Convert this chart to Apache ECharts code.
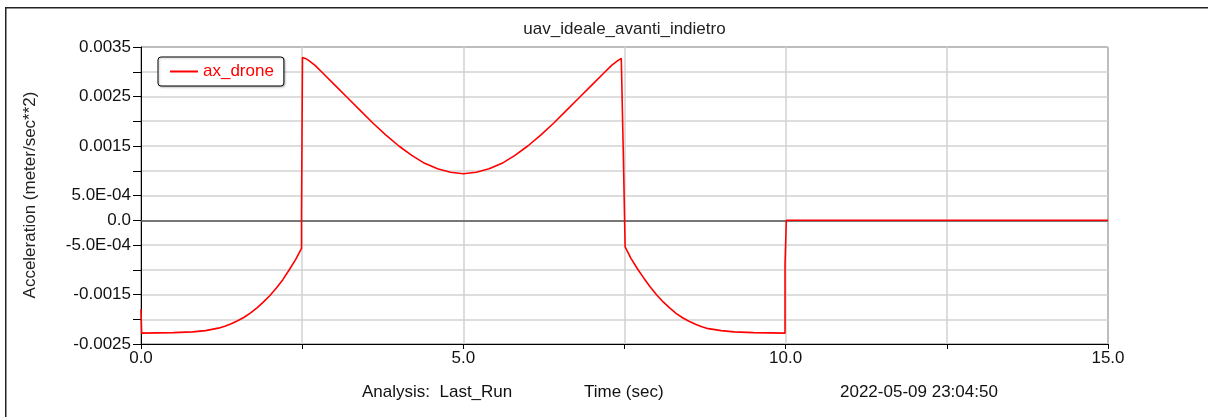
<!DOCTYPE html>
<html>
<head>
<meta charset="utf-8">
<script src="https://cdn.jsdelivr.net/npm/echarts@6/dist/echarts.min.js"></script>
<style>
html,body{margin:0;padding:0;background:#fff;}
#chart{width:1208px;height:417px;}
</style>
</head>
<body>
<div id="chart"></div>
<script>
// ---- data ----
const seriesName = 'ax_drone';
const times = [
  0, 0.01, 0.5, 0.8, 1.0, 1.2, 1.3, 1.4, 1.5, 1.6, 1.7, 1.8, 1.9, 2.0, 2.1, 2.2, 2.3, 2.4, 2.49,
  2.49, 2.505, 2.505, 2.55, 2.6, 2.7, 2.8, 3.0, 3.2, 3.4, 3.6, 3.8, 4.0, 4.2, 4.4, 4.6, 4.8, 5.0,
  5.2, 5.4, 5.6, 5.8, 6.0, 6.2, 6.4, 6.6, 6.8, 7.0, 7.2, 7.3, 7.4, 7.45, 7.48,
  7.48, 7.51, 7.51, 7.52, 7.6, 7.7, 7.8, 7.9, 8.0, 8.1, 8.2, 8.3, 8.4, 8.5, 8.6, 8.7, 8.8, 9.0, 9.2, 9.5, 9.99,
  9.99, 10.01, 10.01, 15.0
];
const accel = [
  -0.0018, -0.00228, -0.00227, -0.002255, -0.00223, -0.00218, -0.00214, -0.00209, -0.00203, -0.00196, -0.00187, -0.00177, -0.00165, -0.00152, -0.00137, -0.00120, -0.00100, -0.00079, -0.00057,
  0.00016, 0.00016, 0.00329, 0.00327, 0.00323, 0.00313, 0.00300, 0.00274, 0.00248, 0.00222, 0.00196, 0.00172, 0.00150, 0.00131, 0.00115, 0.00104, 0.00097, 0.00094,
  0.00097, 0.00104, 0.00115, 0.00131, 0.00150, 0.00172, 0.00196, 0.00222, 0.00248, 0.00274, 0.00300, 0.00313, 0.00323, 0.00327, 0.00329,
  0.00145, 0.00145, -0.00054, -0.00057, -0.00077, -0.00098, -0.00117, -0.00135, -0.00151, -0.00165, -0.00177, -0.00188, -0.00197, -0.00204, -0.00210, -0.00215, -0.00219, -0.00223, -0.002255, -0.00227, -0.00228,
  -0.0009, -0.0009, 0, 0
];
const yTickValues = [0.0035, 0.0025, 0.0015, 0.0005, 0, -0.0005, -0.0015, -0.0025];
const yTickLabels = ['0.0035', '0.0025', '0.0015', '5.0E-04', '0.0', '-5.0E-04', '-0.0015', '-0.0025'];
const xTickValues = [0, 5, 10, 15];
const xTickLabels = ['0.0', '5.0', '10.0', '15.0'];
const titleText = 'uav_ideale_avanti_indietro';
const yAxisName = 'Acceleration (meter/sec**2)';
const footAnalysis = 'Analysis:  Last_Run';
const footAxis = 'Time (sec)';
const footDate = '2022-05-09 23:04:50';

// ---- chart ----
const FONT = '"Liberation Sans", Arial, sans-serif';
const chart = echarts.init(document.getElementById('chart'), null, {renderer: 'canvas'});
const points = times.map((t, i) => [t, accel[i]]);

function lookup(vals, labels, v) {
  for (let i = 0; i < vals.length; i++) {
    if (Math.abs(vals[i] - v) < 1e-9) return labels[i];
  }
  return '';
}

const option = {
  animation: false,
  backgroundColor: '#fff',
  grid: {
    left: 141, top: 47, width: 967, height: 297,
    show: true, borderColor: '#000', borderWidth: 1, backgroundColor: 'transparent'
  },
  legend: {
    data: [{name: seriesName, icon: 'rect'}],
    left: 158, top: 57,
    padding: [6, 10, 6, 12],
    itemWidth: 28, itemHeight: 2, itemGap: 5,
    borderColor: '#000', borderWidth: 1, borderRadius: 3,
    backgroundColor: '#fff',
    shadowColor: 'rgba(0,0,0,0.25)', shadowBlur: 2, shadowOffsetX: 1, shadowOffsetY: 1,
    textStyle: {color: '#ff0000', fontSize: 17, fontFamily: FONT, padding: [0, 0, 0, 0]}
  },
  xAxis: {
    type: 'value', min: 0, max: 15, interval: 2.5,
    axisLine: {show: true, onZero: false, lineStyle: {color: '#000', width: 1}},
    axisTick: {show: true, length: 5, lineStyle: {color: '#000'}},
    axisLabel: {
      margin: 6, color: '#111', fontSize: 17, fontFamily: FONT,
      showMinLabel: true, showMaxLabel: true,
      formatter: v => lookup(xTickValues, xTickLabels, v)
    },
    splitLine: {show: true, lineStyle: {color: '#d2d2d2', width: 1.5}}
  },
  yAxis: {
    type: 'value', min: -0.0025, max: 0.0035, interval: 0.0005,
    axisLine: {show: true, onZero: false, lineStyle: {color: '#000', width: 1}},
    axisTick: {show: true, length: 8, lineStyle: {color: '#000'}},
    axisLabel: {
      margin: 10, color: '#111', fontSize: 17, fontFamily: FONT,
      showMinLabel: true, showMaxLabel: true,
      formatter: v => lookup(yTickValues, yTickLabels, v)
    },
    splitLine: {show: true, lineStyle: {color: '#d2d2d2', width: 1.5}}
  },
  series: [{
    name: seriesName,
    type: 'line',
    data: points,
    symbol: 'none',
    showSymbol: false,
    lineStyle: {color: '#ff0000', width: 1.6},
    itemStyle: {color: '#ff0000'},
    z: 3,
    markLine: {
      silent: true, symbol: ['none', 'none'], label: {show: false},
      lineStyle: {color: '#555', width: 1.5, type: 'solid'},
      data: [{yAxis: 0}],
      z: 2
    }
  }],
  graphic: [
    {type: 'rect', left: 5, top: 7, z: -10, silent: true,
      shape: {width: 1215, height: 420},
      style: {fill: 'transparent', stroke: '#222', lineWidth: 1.5}},
    {type: 'text', x: 624.5, y: 29, silent: true,
      style: {text: titleText, fill: '#222', font: '17px ' + FONT, textAlign: 'center', textVerticalAlign: 'middle'}},
    {type: 'text', x: 30, y: 195, rotation: Math.PI / 2, silent: true,
      style: {text: yAxisName, fill: '#222', font: '17px ' + FONT, textAlign: 'center', textVerticalAlign: 'middle'}},
    {type: 'text', x: 362, y: 392, silent: true,
      style: {text: footAnalysis, fill: '#111', font: '17px ' + FONT, textAlign: 'left', textVerticalAlign: 'middle'}},
    {type: 'text', x: 584, y: 392, silent: true,
      style: {text: footAxis, fill: '#111', font: '17px ' + FONT, textAlign: 'left', textVerticalAlign: 'middle'}},
    {type: 'text', x: 840, y: 392, silent: true,
      style: {text: footDate, fill: '#111', font: '17px ' + FONT, textAlign: 'left', textVerticalAlign: 'middle'}}
  ]
};
chart.setOption(option);
</script>
</body>
</html>
